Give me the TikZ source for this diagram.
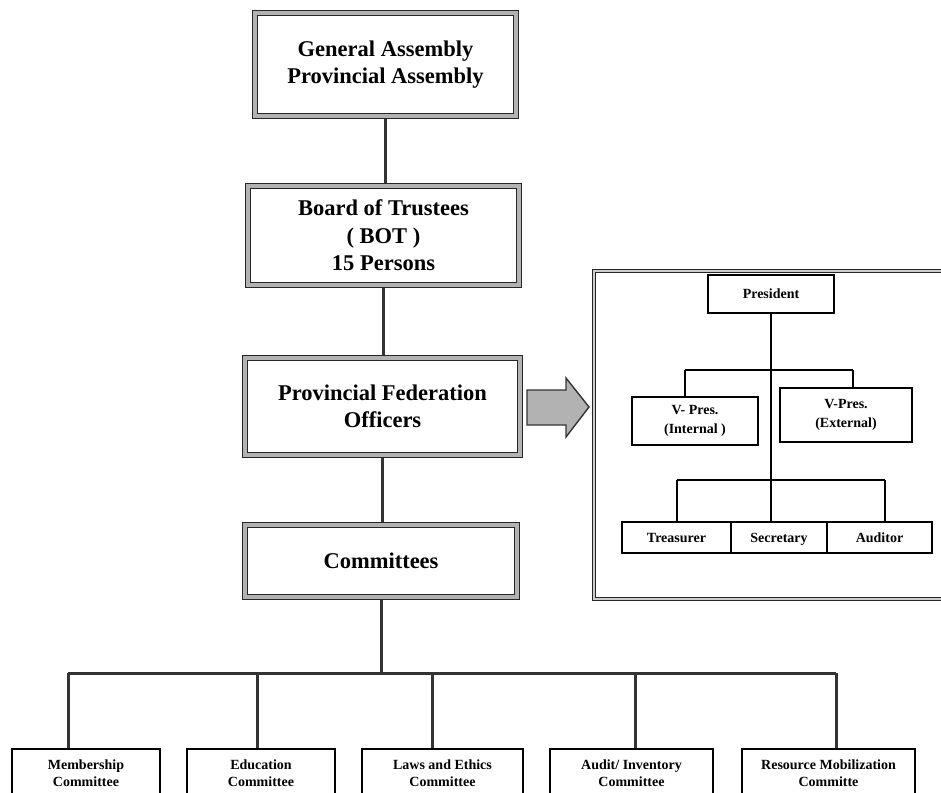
\documentclass[tikz,border=0pt]{standalone}
\usepackage{fontspec}
\setmainfont{Liberation Serif}
\usetikzlibrary{backgrounds}
\begin{document}
\begin{tikzpicture}[x=1pt,y=-1pt,
  mainbox/.style={draw=black!85, line width=1.4pt, double=gray!60, double distance=3.8pt,
    fill=white, align=center, inner sep=0pt, font=\bfseries\fontsize{22.5}{27.5}\selectfont},
  conn/.style={draw=black!80, line width=3pt},
  pbox/.style={draw=black, line width=1.7pt, fill=white, align=center, inner sep=0pt,
    font=\bfseries\fontsize{14}{19}\selectfont},
  oneline/.style={text height=12pt, text depth=2.5pt},
  plink/.style={draw=black, line width=2pt},
  cbox/.style={draw=black, line width=2pt, fill=white, align=center, inner xsep=0pt,
    inner ysep=11pt, anchor=north, font=\bfseries\fontsize{14}{17}\selectfont},
  panelframe/.style={draw=black!85, line width=1.2pt, double=gray!40, double distance=2pt},
  bigarrow/.style={draw=black!80, line width=1.4pt, fill=gray!60}
]
\useasboundingbox (0,0) rectangle (941,792);
\clip (0,0) rectangle (941,792);

% main column
\node[mainbox, minimum width=261pt, minimum height=103pt] (ga) at (385.5,64.5)
  {General Assembly\\Provincial Assembly};
\node[mainbox, minimum width=271pt, minimum height=99pt] (bot) at (383.5,235.5)
  {Board of Trustees\\( BOT )\\15 Persons};
\node[mainbox, minimum width=275pt, minimum height=97pt] (pfo) at (382.5,406.5)
  {Provincial Federation\\Officers};
\node[mainbox, minimum width=272pt, minimum height=72pt] (com) at (381,561)
  {Committees};

% committees row
\node[cbox, minimum width=148pt] (mem) at (86,748) {Membership\\Committee};
\node[cbox, minimum width=148pt] (edu) at (261,748) {Education\\Committee};
\node[cbox, minimum width=161pt] (law) at (442.5,748) {Laws and Ethics\\Committee};
\node[cbox, minimum width=163pt] (aud) at (631.5,748) {Audit/ Inventory\\Committee};
\node[cbox, minimum width=173pt] (res) at (828.5,748) {Resource Mobilization\\Committe};

\coordinate (bar) at (385,673);
\coordinate (b1) at (68,673);
\coordinate (b2) at (257,673);
\coordinate (b3) at (432,673);
\coordinate (b4) at (635,673);
\coordinate (b5) at (836,673);

\begin{scope}[on background layer]
  \draw[conn] (ga.south) -- (ga.south |- bot.north);
  \draw[conn] (bot.south) -- (bot.south |- pfo.north);
  \draw[conn] (pfo.south) -- (pfo.south |- com.north);
  \draw[conn] (com.south) -- (com.south |- bar);
  \draw[conn] (b1) -- (b5);
  \draw[conn] (b1) -- (b1 |- mem.north);
  \draw[conn] (b2) -- (b2 |- edu.north);
  \draw[conn] (b3) -- (b3 |- law.north);
  \draw[conn] (b4) -- (b4 |- aud.north);
  \draw[conn] (b5) -- (b5 |- res.north);
\end{scope}

% arrow
\draw[bigarrow] (527,390) -- (566,390) -- (566,378) -- (589,407) -- (566,437)
  -- (566,425) -- (527,425) -- cycle;

% right panel
\draw[panelframe] (594,271) rectangle (960,599);
\node[pbox, oneline, minimum width=126pt, minimum height=38pt] (pres) at (771,294) {President};
\node[pbox, minimum width=126pt, minimum height=48pt] (vpi) at (695,421) {V- Pres.\\(Internal )};
\node[pbox, minimum width=132pt, minimum height=54pt] (vpe) at (846,415) {V-Pres.\\(External)};
\node[pbox, oneline, minimum width=109pt, minimum height=31pt] (tre) at (676.5,537.5) {Treasurer};
\node[pbox, oneline, minimum width=96pt, minimum height=31pt] (sec) at (779,537.5) {Secretary};
\node[pbox, oneline, minimum width=105pt, minimum height=31pt] (aut) at (879.5,537.5) {Auditor};

\coordinate (u1) at (685,370);
\coordinate (u2) at (853,370);
\coordinate (l1) at (677,480);
\coordinate (l2) at (771,480);
\coordinate (l3) at (885,480);

\begin{scope}[on background layer]
  \draw[plink] (pres.south) -- (l2);
  \draw[plink] (u1) -- (u2);
  \draw[plink] (u1) -- (u1 |- vpi.north);
  \draw[plink] (u2) -- (u2 |- vpe.north);
  \draw[plink] (l1) -- (l3);
  \draw[plink] (l1) -- (l1 |- tre.north);
  \draw[plink] (l2) -- (l2 |- sec.north);
  \draw[plink] (l3) -- (l3 |- aut.north);
\end{scope}
\end{tikzpicture}
\end{document}
